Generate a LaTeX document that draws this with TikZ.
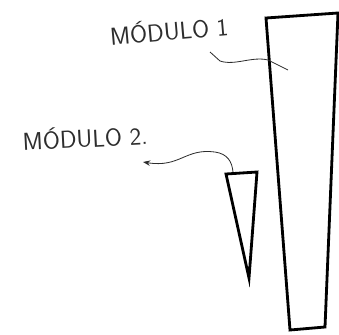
\documentclass[tikz,border=0pt]{standalone}
\usepackage{tikz}
\usepackage{xcolor}
\definecolor{lapiz}{RGB}{45, 45, 45}
\usetikzlibrary{arrows.meta, positioning}

\begin{document}
\begin{tikzpicture}[>=Stealth, x=0.03cm, y=-0.03cm,
    modulo/.style={line width=2.4pt, line join=miter, black},
    etiqueta/.style={text=lapiz, font=\fontsize{21}{24}\selectfont\sffamily, inner sep=0pt},
    flecha/.style={line width=0.7pt, lapiz}]

\useasboundingbox (0, 0) rectangle (339, 334);

% === Módulo 1 (trapecio grande) ===
\draw[modulo] (266, 18) -- (338, 13) -- (325, 327) -- (290, 330) -- cycle;
\coordinate (m1) at (288, 70);

% === Módulo 2 (triángulo) ===
\draw[modulo] (226, 174) -- (257, 172) -- (249, 278) -- cycle;
\coordinate (m2) at (233, 172);

% === Etiquetas ===
\node[etiqueta, rotate=5] (lab1) at (169, 30) {MÓDULO 1};
\node[etiqueta, rotate=3] (lab2) at (85, 137) {MÓDULO 2.};

% Conectores
\draw[flecha] ([shift={(41, 22)}]lab1.center) -- ++(10, 9)
    .. controls (235, 66) and (252, 56) .. (268, 60) -- (m1);
\draw[flecha, <-] ([shift={(58, 25)}]lab2.center)
    .. controls (180, 168) and (185, 148) .. (215, 152)
    .. controls (228, 154) and (232, 162) .. (m2);

\end{tikzpicture}
\end{document}
